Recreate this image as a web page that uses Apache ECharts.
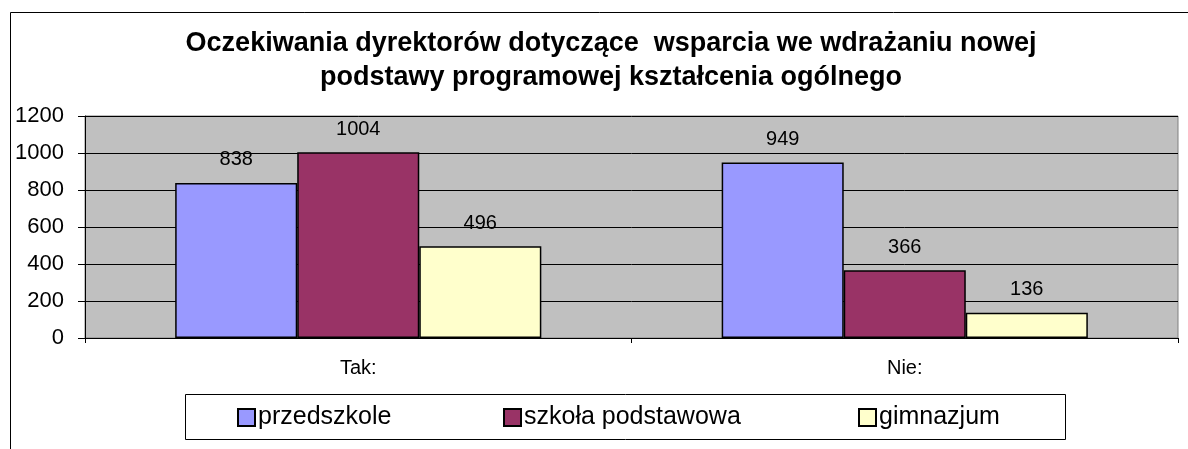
<!DOCTYPE html>
<html>
<head>
<meta charset="utf-8">
<script src="https://cdn.jsdelivr.net/npm/echarts@6/dist/echarts.min.js"></script>
<style>
  html, body { margin: 0; padding: 0; background: #ffffff; }
  #chart { width: 1188px; height: 449px; }
</style>
</head>
<body>
<div id="chart"></div>
<script>
// Survey answers, grouped by response
const categories = ['Tak:', 'Nie:'];
const seriesNames = ['przedszkole', 'szkoła podstawowa', 'gimnazjum'];
const przedszkole = [838, 949];
const szkolaPodstawowa = [1004, 366];
const gimnazjum = [496, 136];
const yTicks = [0, 200, 400, 600, 800, 1000, 1200];

const colors = ['#9999FF', '#993366', '#FFFFCC'];
const valuesBySeries = [przedszkole, szkolaPodstawowa, gimnazjum];
const font = '"Liberation Sans", Arial, sans-serif';

const chart = echarts.init(document.getElementById('chart'));

const series = seriesNames.map((name, i) => ({
  name,
  type: 'bar',
  data: valuesBySeries[i],
  barGap: '0%',
  barCategoryGap: '33%',
  itemStyle: { color: colors[i], borderColor: '#000000', borderWidth: 1.5 },
  label: {
    show: true,
    position: 'top',
    distance: 13,
    color: '#000000',
    fontFamily: font,
    fontSize: 20
  },
  emphasis: { disabled: true }
}));

// one legend per entry so each sits at its own place inside the framed box
const legendLeft = [237, 503, 858];
const legends = seriesNames.map((name, i) => ({
  data: [name],
  left: legendLeft[i],
  top: 405,
  padding: 0,
  itemWidth: 17,
  itemHeight: 17,
  itemGap: 0,
  icon: 'rect',
  selectedMode: false,
  textStyle: { color: '#000000', fontFamily: font, fontSize: 25, padding: [0, 0, 0, -2] }
}));

chart.setOption({
  animation: false,
  backgroundColor: '#ffffff',
  title: {
    text: 'Oczekiwania dyrektorów dotyczące  wsparcia we wdrażaniu nowej\npodstawy programowej kształcenia ogólnego',
    left: 606,
    top: 22,
    textAlign: 'center',
    textStyle: {
      color: '#000000',
      fontFamily: font,
      fontWeight: 'bold',
      fontSize: 27,
      lineHeight: 34
    }
  },
  graphic: [
    {
      type: 'polyline',
      z: -1,
      shape: { points: [[10.5, 449], [10.5, 12.5], [1188, 12.5]] },
      style: { stroke: '#000000', lineWidth: 1, fill: null }
    },
    {
      type: 'rect',
      z: -1,
      shape: { x: 185.5, y: 394.5, width: 880, height: 45 },
      style: { stroke: '#000000', lineWidth: 1, fill: '#ffffff' }
    }
  ],
  legend: legends,
  grid: {
    left: 85,
    right: 10,
    top: 116,
    bottom: 111,
    show: true,
    backgroundColor: '#C0C0C0',
    borderColor: '#808080',
    borderWidth: 1
  },
  xAxis: {
    type: 'category',
    data: categories,
    axisLine: { lineStyle: { color: '#000000', width: 1 } },
    axisTick: { show: true, length: 5, lineStyle: { color: '#000000' } },
    axisLabel: { color: '#000000', fontFamily: font, fontSize: 20, margin: 20 },
    splitLine: { show: false }
  },
  yAxis: {
    type: 'value',
    min: yTicks[0],
    max: yTicks[yTicks.length - 1],
    interval: yTicks[1] - yTicks[0],
    axisLine: { show: true, lineStyle: { color: '#000000', width: 1 } },
    axisTick: { show: true, length: 7, lineStyle: { color: '#000000' } },
    axisLabel: {
      color: '#000000',
      fontFamily: font,
      fontSize: 22,
      margin: 21,
      formatter: (v) => String(v)
    },
    splitLine: { show: true, lineStyle: { color: '#000000', width: 1 } }
  },
  series
});
</script>
</body>
</html>
